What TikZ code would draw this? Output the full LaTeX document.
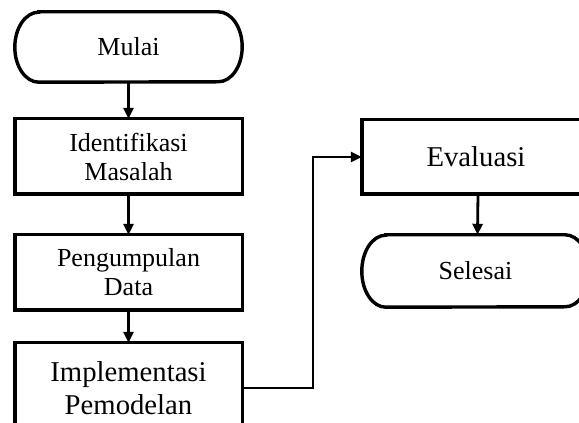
\documentclass[tikz,border=0pt]{standalone}
\usepackage{fontspec}
\setmainfont{Liberation Serif}
\usetikzlibrary{arrows.meta}
\begin{document}
\begin{tikzpicture}[x=1pt,y=1pt,
  box/.style={draw=none,minimum width=227pt,align=center,inner sep=0pt},
  normtext/.style={font=\fontsize{26}{29}\selectfont},
  bigtext/.style={font=\fontsize{28.7}{33}\selectfont},
  outline/.style={line width=3.4pt},
  flow/.style={line width=2.8pt,-{Triangle[width=10pt,length=11pt]}}]
\useasboundingbox (0,0) rectangle (579,423);
\clip (0,0) rectangle (579,423);
\fill[white] (0,0) rectangle (579,423);
% nodes
\node[box,normtext,minimum height=70pt] (mulai) at (128.5,376) {Mulai};
\node[box,normtext,minimum height=75pt] (ident) at (128.5,266.5) {Identifikasi\\Masalah};
\node[box,normtext,minimum height=75pt] (kumpul) at (128.5,150.5) {Pengumpulan\\Data};
\node[box,bigtext,minimum height=90pt] (impl) at (128.5,35) {Implementasi\\Pemodelan};
\node[box,bigtext,minimum width=228pt,minimum height=74pt] (eval) at (476,266) {Evaluasi};
\node[box,normtext,minimum height=72pt] (selesai) at (475.5,152) {Selesai};
% outlines
\foreach \n in {ident,kumpul,impl,eval}{
  \draw[outline] (\n.south west) rectangle (\n.north east);
}
\foreach \n/\r in {mulai/35pt,selesai/36pt}{
  \draw[outline] ([xshift=24pt]\n.north west) -- ([xshift=-24pt]\n.north east)
    arc[start angle=90,end angle=-90,x radius=24pt,y radius=\r]
    -- ([xshift=24pt]\n.south west)
    arc[start angle=270,end angle=90,x radius=24pt,y radius=\r]
    -- cycle;
}
% connectors
\draw[flow] (mulai.south) -- (ident.north);
\draw[flow] (ident.south) -- (kumpul.north);
\draw[flow] (kumpul.south) -- (impl.north);
\coordinate (bend) at (313,0);
\draw[flow] (impl.east) -| (bend |- eval.west) -- (eval.west);
\draw[flow] ([xshift=2pt]eval.south) -- ([xshift=2pt]selesai.north);
\end{tikzpicture}
\end{document}
